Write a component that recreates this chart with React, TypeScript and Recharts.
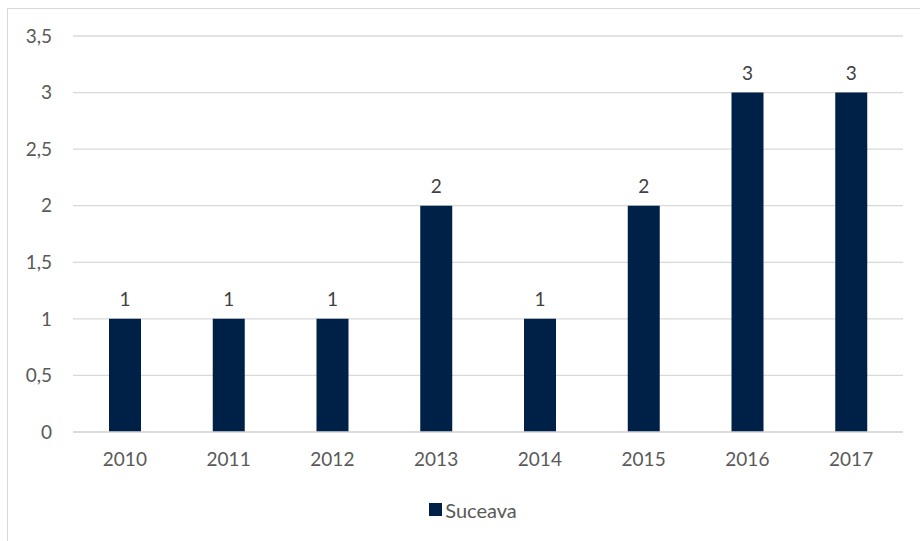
import React from 'react'
import { Bar, BarChart, CartesianGrid, LabelList, Legend, XAxis, YAxis } from 'recharts'

const years: string[] = ['2010', '2011', '2012', '2013', '2014', '2015', '2016', '2017']
const suceava: number[] = [1, 1, 1, 2, 1, 2, 3, 3]
const yTicks: number[] = [0, 0.5, 1, 1.5, 2, 2.5, 3, 3.5]

const chartData = years.map((year, i) => ({ year, Suceava: suceava[i] }))

const FONT = 'Lato, "Open Sans", sans-serif'
const BAR = '#002147'

const LegendBox = () => (
    <div style={{ display: 'flex', justifyContent: 'center', alignItems: 'center', fontFamily: FONT, fontSize: 20, color: '#595959', paddingLeft: 26, height: 23 }}>
        <span style={{ width: 13, height: 13, background: BAR, display: 'inline-block', marginRight: 3 }} />
        <span>Suceava</span>
    </div>
)

const App = () => {
    return (
        <div style={{ position: 'fixed', left: 0, top: 0, width: 920, height: 541, background: '#fff', overflow: 'hidden' }}>
            <div style={{ position: 'absolute', left: 7, top: 8, width: 940, height: 560, border: '1.5px solid #d9d9d9', boxSizing: 'border-box' }} />
            <div style={{ position: 'absolute', left: 0, top: 0 }}>
                <BarChart width={920} height={541} data={chartData} margin={{ top: 36, right: 17, left: 0, bottom: 0 }} barCategoryGap={0}>
                    <CartesianGrid vertical={false} stroke="#d9d9d9" strokeWidth={1.3} />
                    <XAxis
                        dataKey="year"
                        height={86}
                        tickLine={false}
                        tickSize={0}
                        tickMargin={21}
                        axisLine={{ stroke: '#d9d9d9', strokeWidth: 1.3 }}
                        tick={{ fill: '#595959', fontSize: 19, fontFamily: FONT }}
                    />
                    <YAxis
                        width={73}
                        domain={[0, 3.5]}
                        ticks={yTicks}
                        axisLine={false}
                        tickLine={false}
                        tickSize={0}
                        tickMargin={21}
                        tick={{ fill: '#595959', fontSize: 19, fontFamily: FONT }}
                        tickFormatter={(v: number) => String(v).replace('.', ',')}
                    />
                    <Legend
                        verticalAlign="bottom"
                        content={() => <LegendBox />}
                        wrapperStyle={{ top: 498, left: 0, width: 920 }}
                    />
                    <Bar dataKey="Suceava" fill={BAR} barSize={32} isAnimationActive={false}>
                        <LabelList dataKey="Suceava" position="top" offset={13} fill="#404040" fontSize={19} fontFamily={FONT} />
                    </Bar>
                </BarChart>
            </div>
        </div>
    )
}

export default App
